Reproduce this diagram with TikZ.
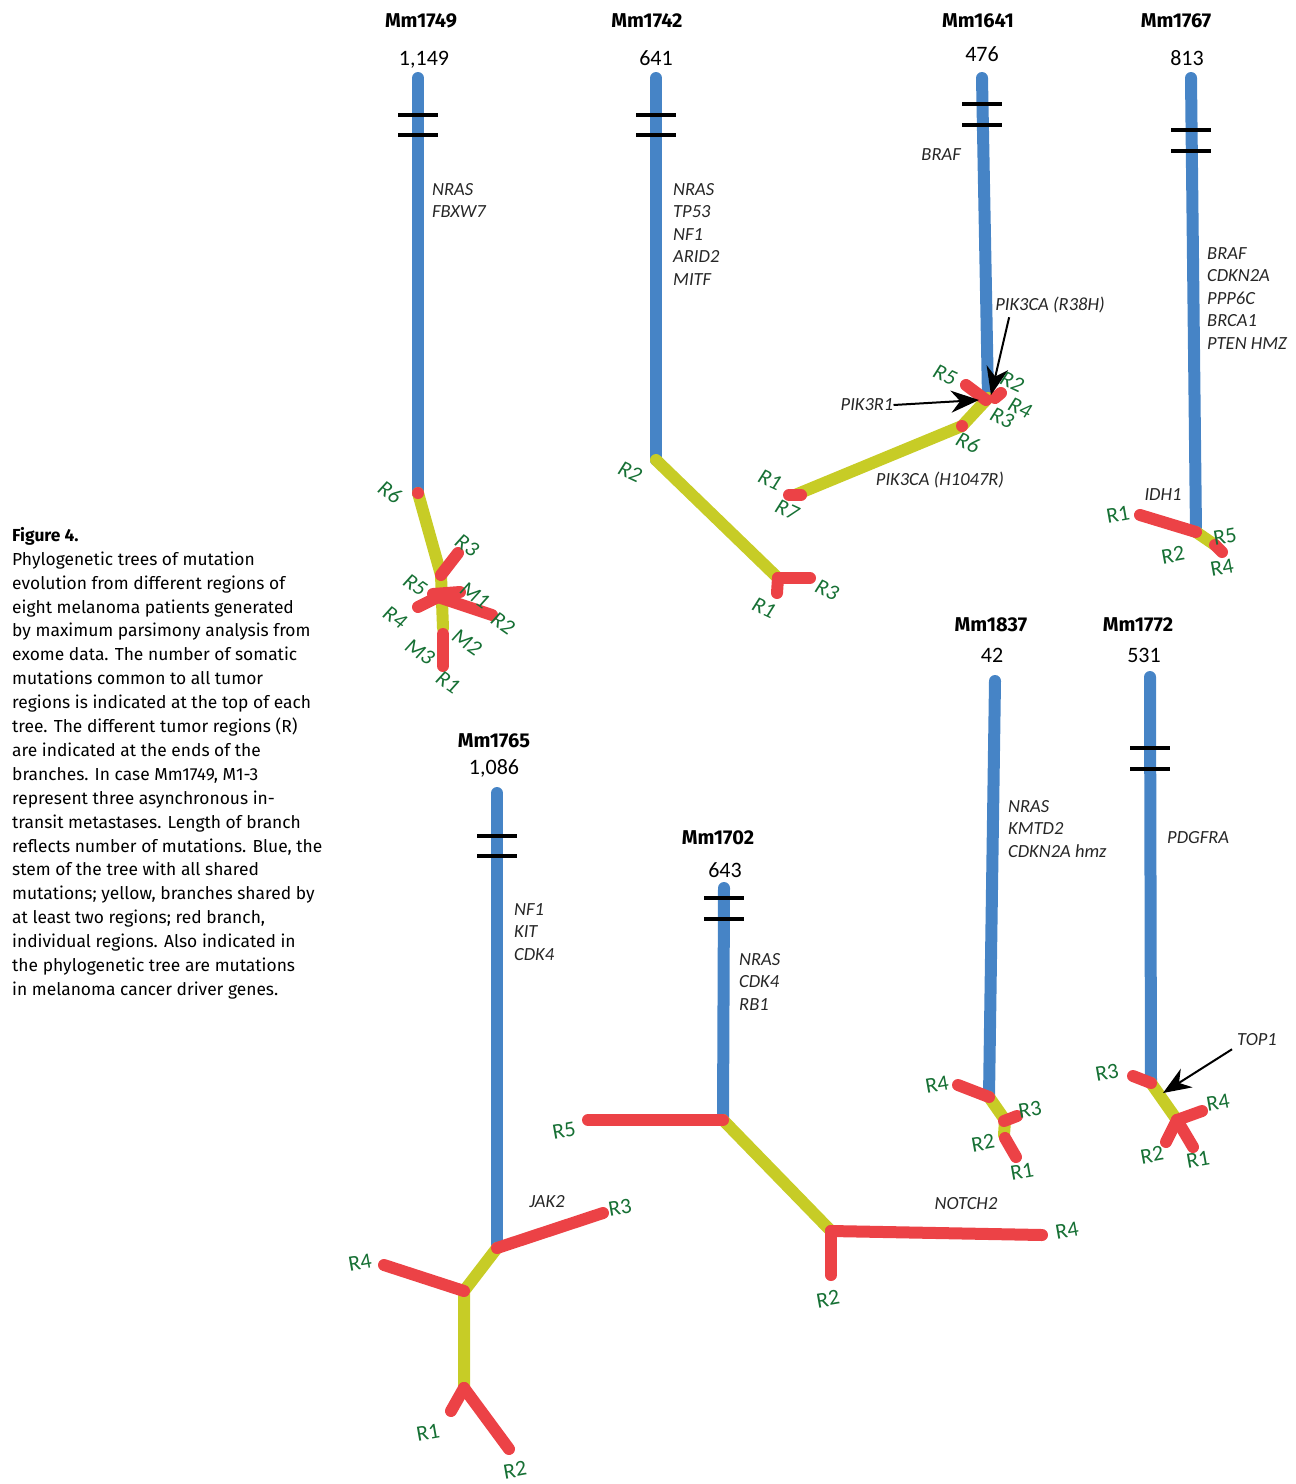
\documentclass[tikz,border=0pt]{standalone}
\usepackage{fontspec}
\setmainfont{Carlito}
\newfontfamily\capfont{Fira Sans}
\usetikzlibrary{arrows.meta}
\definecolor{stemblue}{RGB}{70,132,198}
\definecolor{sharedyel}{RGB}{199,204,38}
\definecolor{privred}{RGB}{236,66,70}
\definecolor{reggreen}{RGB}{22,112,52}
\begin{document}
\begin{tikzpicture}[x=1pt, y=-1pt, line join=round,
    stembr/.style={draw=stemblue, line width=12pt, line cap=round},
    sharedbr/.style={draw=sharedyel, line width=12pt, line cap=round},
    privbr/.style={draw=privred, line width=12pt, line cap=round},
    brkmark/.style={draw=black, line width=4pt},
    reg/.style={text=reggreen, inner sep=0pt, font=\fontsize{22}{22}\selectfont},
    regit/.style={reg, font=\itshape\fontsize{22}{22}\selectfont},
    gene/.style={anchor=north west, align=left, inner sep=0pt, text=black!85, font=\itshape\fontsize{18.5}{22.5}\selectfont},
    hdr/.style={inner sep=0pt, font=\capfont\bfseries\fontsize{20}{20}\selectfont},
    cnt/.style={inner sep=0pt, font=\fontsize{22}{22}\selectfont},
    ptr/.style={-{Stealth[length=28pt,width=22pt]}, line width=2pt}]
  \useasboundingbox (0,0) rectangle (1296,1484);

  % === caption ===
  \node[anchor=north west, align=left, inner sep=0pt, font=\capfont\fontsize{17.4}{23.9}\selectfont] (caption) at (12,527)
    {\textbf{Figure 4.}\\
     Phylogenetic trees of mutation\\
     evolution from different regions of\\
     eight melanoma patients generated\\
     by maximum parsimony analysis from\\
     exome data. The number of somatic\\
     mutations common to all tumor\\
     regions is indicated at the top of each\\
     tree. The different tumor regions (R)\\
     are indicated at the ends of the\\
     branches. In case Mm1749, M1-3\\
     represent three asynchronous in-\\
     transit metastases. Length of branch\\
     reflects number of mutations. Blue, the\\
     stem of the tree with all shared\\
     mutations; yellow, branches shared by\\
     at least two regions; red branch,\\
     individual regions. Also indicated in\\
     the phylogenetic tree are mutations\\
     in melanoma cancer driver genes.};

  % === headers and counts ===
  \node[hdr] (h1749) at (421,21) {Mm1749};
  \node[hdr] (h1742) at (647,21) {Mm1742};
  \node[hdr] (h1641) at (978,21) {Mm1641};
  \node[hdr] (h1767) at (1176,21) {Mm1767};
  \node[hdr] (h1837) at (991,625) {Mm1837};
  \node[hdr] (h1772) at (1138,625) {Mm1772};
  \node[hdr] (h1765) at (494,741) {Mm1765};
  \node[hdr] (h1702) at (718,838) {Mm1702};
  \node[cnt] (n1749) at (424,60) {1,149};
  \node[cnt] (n1742) at (656,58) {641};
  \node[cnt] (n1641) at (982,54) {476};
  \node[cnt] (n1767) at (1187,58) {813};
  \node[cnt] (n1837) at (992,655) {42};
  \node[cnt] (n1772) at (1144,655) {531};
  \node[cnt] (n1765) at (494,768) {1,086};
  \node[cnt] (n1702) at (725,870) {643};

  % === Mm1749 ===
  \coordinate (a0) at (418,78);
  \coordinate (a1) at (418,493);
  \coordinate (a2) at (441,575);
  \coordinate (a3) at (438,597);
  \coordinate (a4) at (443,628);
  \draw[stembr] (a0) -- (a1);
  \draw[sharedbr] (a1) -- (a2) -- (a4);
  \draw[privbr] (a2) -- (458,553);
  \draw[privbr] (418,607) -- (a3);
  \draw[privbr] (433,594) -- (460,592);
  \draw[privbr] (a3) -- (492,615);
  \draw[privbr] (443,634) -- (443,666);
  \fill[privred] (a1) circle (6pt);
  \node[gene] (g1749) at (432,183) {NRAS\\FBXW7};
  \foreach \t/\x/\y in {R6/390/492, R3/467/545, R5/415/585, M1/475/595, R4/395/617,
                        R2/503/623, M2/467/642, M3/420/652, R1/448/682}
    \node[regit, rotate=-35] (a-\t) at (\x,\y) {\t};

  % === Mm1742 ===
  \coordinate (b0) at (656,78);
  \coordinate (b1) at (656,460);
  \coordinate (b2) at (778,578);
  \draw[stembr] (b0) -- (b1);
  \draw[sharedbr] (b1) -- (b2);
  \draw[privbr] (b2) -- (810,578);
  \draw[privbr] (b2) -- (777,593);
  \node[gene] (g1742) at (673,183) {NRAS\\TP53\\NF1\\ARID2\\MITF};
  \foreach \t/\x/\y in {R2/630/472, R3/827/590, R1/764/608}
    \node[regit, rotate=-25] (b-\t) at (\x,\y) {\t};

  % === Mm1641 ===
  \coordinate (c0) at (982,78);
  \coordinate (c1) at (988,398);
  \coordinate (c2) at (962,426);
  \coordinate (c3) at (795,495);
  \draw[stembr] (c0) -- (c1);
  \draw[sharedbr] (c1) -- (c2) -- (c3);
  \draw[privbr] (966,385) -- (986,400);
  \draw[privbr] (995,398) -- (1001,393);
  \draw[privbr] (789,495) -- (801,495);
  \fill[privred] (c2) circle (6pt);
  \node[gene, anchor=north east] (g1641) at (961,148) {BRAF};
  \node[gene, anchor=center] (pik3ca1) at (1050,305) {PIK3CA (R38H)};
  \node[gene, anchor=center] (pik3r1) at (867,405) {PIK3R1};
  \node[gene, anchor=center] (pik3ca2) at (940,480) {PIK3CA (H1047R)};
  \coordinate (c-tipa) at (991,395);
  \coordinate (c-tipb) at (979,400);
  \draw[ptr] ([xshift=14pt,yshift=-4pt]pik3ca1.south west) -- (c-tipa);
  \draw[ptr] (pik3r1.east) -- (c-tipb);
  \foreach \t/\x/\y in {R5/945/375, R2/1012/382, R4/1020/408, R3/1002/418,
                        R6/968/443, R1/770/480, R7/787/510}
    \node[regit, rotate=-25] (c-\t) at (\x,\y) {\t};

  % === Mm1767 ===
  \coordinate (d0) at (1191,78);
  \coordinate (d1) at (1196,532);
  \coordinate (d2) at (1215,545);
  \draw[stembr] (d0) -- (d1);
  \draw[sharedbr] (d1) -- (d2);
  \draw[privbr] (1140,515) -- (d1);
  \draw[privbr] (d2) -- (1222,552);
  \node[gene] (g1767) at (1207,247) {BRAF\\CDKN2A\\PPP6C\\BRCA1\\PTEN HMZ};
  \node[gene, anchor=center] (idh1) at (1163,495) {IDH1};
  \foreach \t/\x/\y in {R1/1118/515, R2/1173/555, R5/1225/537, R4/1222/568}
    \node[reg, rotate=10] (d-\t) at (\x,\y) {\t};

  % === Mm1837 ===
  \coordinate (e0) at (995,681);
  \coordinate (e1) at (989,1097);
  \coordinate (e2) at (1005,1120);
  \coordinate (e3) at (1004,1135);
  \draw[stembr] (e0) -- (e1);
  \draw[sharedbr] (e1) -- (e2) -- (e3);
  \draw[privbr] (958,1085) -- (e1);
  \draw[privbr] (1004,1121) -- (1017,1116);
  \draw[privbr] (1005,1138) -- (1016,1157);
  \node[gene] (g1837) at (1008,800) {NRAS\\KMTD2\\CDKN2A hmz};
  \foreach \t/\x/\y in {R4/937/1085, R3/1030/1110, R2/983/1143, R1/1022/1172}
    \node[reg, rotate=10] (e-\t) at (\x,\y) {\t};

  % === Mm1772 ===
  \coordinate (f0) at (1150,677);
  \coordinate (f1) at (1151,1083);
  \coordinate (f2) at (1177,1120);
  \draw[stembr] (f0) -- (f1);
  \draw[sharedbr] (f1) -- (f2);
  \draw[privbr] (1133,1076) -- (f1);
  \draw[privbr] (f2) -- (1202,1111);
  \draw[privbr] (f2) -- (1166,1142);
  \draw[privbr] (f2) -- (1193,1147);
  \node[gene] (g1772) at (1167,831) {PDGFRA};
  \node[gene, anchor=center] (top1) at (1257,1040) {TOP1};
  \coordinate (f-tip) at (1163,1093);
  \draw[ptr] ([xshift=-5pt,yshift=-3pt]top1.south west) -- (f-tip);
  \foreach \t/\x/\y in {R3/1107/1073, R4/1218/1103, R2/1152/1155, R1/1198/1160}
    \node[reg, rotate=10] (f-\t) at (\x,\y) {\t};

  % === Mm1765 ===
  \coordinate (g0) at (497,793);
  \coordinate (g1) at (497,1248);
  \coordinate (g2) at (464,1291);
  \coordinate (g3) at (464,1388);
  \draw[stembr] (g0) -- (g1);
  \draw[sharedbr] (g1) -- (g2) -- (g3);
  \draw[privbr] (g1) -- (603,1213);
  \draw[privbr] (384,1265) -- (g2);
  \draw[privbr] (g3) -- (451,1411);
  \draw[privbr] (g3) -- (509,1449);
  \node[gene] (g1765) at (514,903) {NF1\\KIT\\CDK4};
  \node[gene, anchor=center] (jak2) at (547,1202) {JAK2};
  \foreach \t/\x/\y in {R3/620/1208, R4/360/1263, R1/428/1433, R2/515/1470}
    \node[reg, rotate=10] (g-\t) at (\x,\y) {\t};

  % === Mm1702 ===
  \coordinate (h0) at (724,888);
  \coordinate (h1) at (723,1120);
  \coordinate (h2) at (831,1231);
  \draw[stembr] (h0) -- (h1);
  \draw[sharedbr] (h1) -- (h2);
  \draw[privbr] (588,1120) -- (h1);
  \draw[privbr] (h2) -- (1042,1235);
  \draw[privbr] (h2) -- (831,1275);
  \node[gene] (g1702) at (739,953) {NRAS\\CDK4\\RB1};
  \node[gene, anchor=center] (notch2) at (966,1204) {NOTCH2};
  \foreach \t/\x/\y in {R5/564/1131, R2/828/1299, R4/1067/1231}
    \node[reg, rotate=10] (h-\t) at (\x,\y) {\t};

  % === break marks ===
  \foreach \x/\ya/\yb in {418/115/135, 656/115/135, 982/104/125, 1191/130/151,
                          1150/748/769, 497/836/856, 724/898/919}{
    \draw[brkmark] (\x-20,\ya) -- (\x+20,\ya);
    \draw[brkmark] (\x-20,\yb) -- (\x+20,\yb);
  }
\end{tikzpicture}
\end{document}
